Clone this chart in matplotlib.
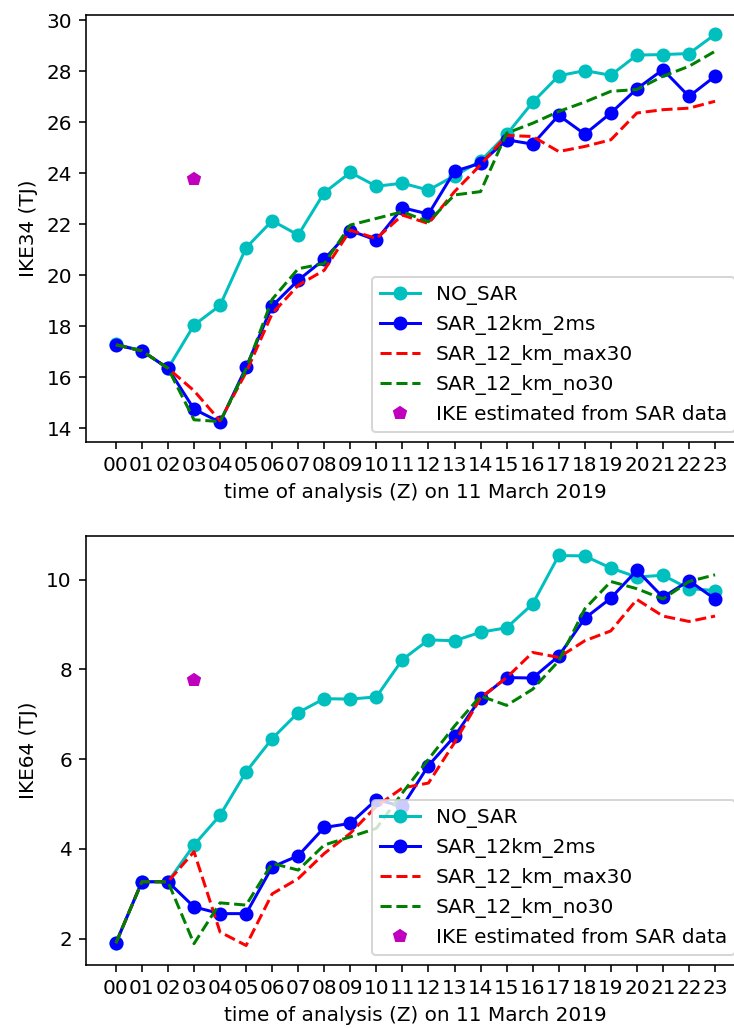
import numpy as np
import matplotlib
matplotlib.use("Agg")
import matplotlib.pyplot as plt

# analysis hours on 11 March 2019
hours = ['00', '01', '02', '03', '04', '05', '06', '07', '08', '09', '10', '11',
         '12', '13', '14', '15', '16', '17', '18', '19', '20', '21', '22', '23']

# IKE for winds >= 34 kt (TJ)
ike34_nosar = [17.30, 17.05, 16.35, 18.05, 18.82, 21.08, 22.14, 21.58, 23.24, 24.03, 23.49, 23.61,
               23.34, 23.90, 24.48, 25.52, 26.78, 27.82, 28.02, 27.84, 28.63, 28.65, 28.69, 29.44]
ike34_sar2ms = [17.28, 17.04, 16.36, 14.76, 14.24, 16.40, 18.80, 19.81, 20.63, 21.75, 21.38, 22.65,
                22.40, 24.08, 24.39, 25.31, 25.14, 26.27, 25.53, 26.36, 27.31, 28.06, 27.01, 27.80]
ike34_max30 = [17.28, 17.04, 16.36, 15.48, 14.30, 16.20, 18.50, 19.61, 20.20, 21.77, 21.44, 22.36,
               22.03, 23.28, 24.33, 25.48, 25.44, 24.85, 25.05, 25.31, 26.36, 26.49, 26.55, 26.82]
ike34_no30 = [17.28, 17.04, 16.36, 14.34, 14.27, 16.33, 19.06, 20.26, 20.46, 21.97, 22.23, 22.49,
              22.10, 23.15, 23.28, 25.57, 25.96, 26.42, 26.79, 27.21, 27.28, 27.80, 28.19, 28.78]

# IKE for winds >= 64 kt (TJ)
ike64_nosar = [1.90, 3.27, 3.27, 4.09, 4.75, 5.72, 6.46, 7.04, 7.35, 7.34, 7.39, 8.22,
               8.66, 8.64, 8.83, 8.93, 9.46, 10.54, 10.53, 10.26, 10.06, 10.10, 9.80, 9.76]
ike64_sar2ms = [1.90, 3.27, 3.27, 2.71, 2.56, 2.56, 3.60, 3.85, 4.48, 4.57, 5.10, 4.95,
                5.86, 6.51, 7.36, 7.82, 7.81, 8.30, 9.14, 9.59, 10.21, 9.61, 9.98, 9.57]
ike64_max30 = [1.90, 3.27, 3.27, 3.94, 2.15, 1.85, 3.00, 3.34, 3.90, 4.35, 4.95, 5.36,
               5.47, 6.37, 7.37, 7.82, 8.38, 8.27, 8.64, 8.86, 9.56, 9.19, 9.07, 9.19]
ike64_no30 = [1.90, 3.27, 3.27, 1.89, 2.80, 2.75, 3.68, 3.53, 4.09, 4.27, 4.46, 5.25,
              6.00, 6.74, 7.41, 7.20, 7.56, 8.19, 9.35, 9.96, 9.80, 9.57, 9.96, 10.11]

# IKE estimated from the SAR scene at 03Z
sar_hour = 3
sar_ike34 = 23.76
sar_ike64 = 7.76

x = np.arange(len(hours))

fig = plt.figure(figsize=(734 / 144, 1028 / 144), dpi=144)
ax1 = fig.add_axes([0.117, 0.5703, 0.898, 0.4151])
ax2 = fig.add_axes([0.117, 0.0613, 0.898, 0.4173])


def draw(ax, nosar, sar2ms, max30, no30, sar_val, ylabel):
    ax.plot(x, nosar, 'c-o', label='NO_SAR')
    ax.plot(x, sar2ms, 'b-o', label='SAR_12km_2ms')
    ax.plot(x, max30, 'r--', label='SAR_12_km_max30')
    ax.plot(x, no30, 'g--', label='SAR_12_km_no30')
    ax.plot([sar_hour], [sar_val], 'mp', label='IKE estimated from SAR data')
    ax.set_xticks(x)
    ax.set_xticklabels(hours)
    ax.set_xlabel('time of analysis (Z) on 11 March 2019')
    ax.set_ylabel(ylabel)
    ax.legend(loc='lower right')


draw(ax1, ike34_nosar, ike34_sar2ms, ike34_max30, ike34_no30, sar_ike34, 'IKE34 (TJ)')
draw(ax2, ike64_nosar, ike64_sar2ms, ike64_max30, ike64_no30, sar_ike64, 'IKE64 (TJ)')

fig.savefig('out.png', dpi=144)
